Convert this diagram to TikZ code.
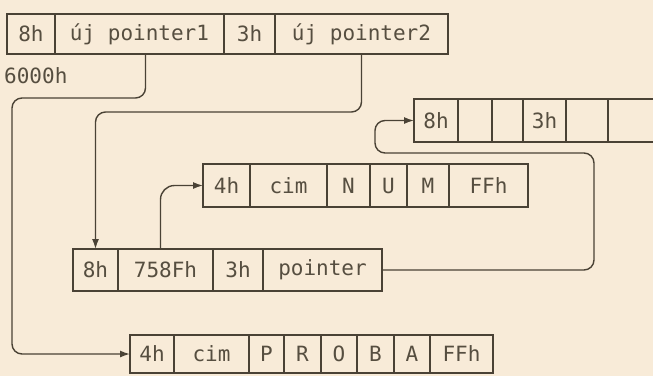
\documentclass[tikz,border=0pt]{standalone}
\usepackage{fontspec}
\setmonofont{DejaVu Sans Mono}
\usetikzlibrary{arrows.meta}
\definecolor{bg}{HTML}{F8EBD8}
\definecolor{ln}{HTML}{4A4235}
\definecolor{tx}{HTML}{564E40}
\tikzset{
  cell/.style={draw=ln, line width=1.4pt, anchor=north west, inner sep=0pt, outer sep=0pt,
    text=tx, font=\ttfamily\fontsize{21}{21}\selectfont},
  ptr/.style={draw=ln, line width=1.4pt, rounded corners=10pt, -{Latex[length=10pt,width=7pt]}},
  lbl/.style={text=tx, font=\ttfamily\fontsize{21}{21}\selectfont, inner sep=0pt}
}
\newcommand{\cellat}[5]{% name, x0, x1, y0, y1 ; text follows
  \node[cell, minimum width={(#3-#2)*1pt}, minimum height={(#5-#4)*1pt}] (#1) at (#2,#4)}
\begin{document}
\begin{tikzpicture}[x=1pt,y=-1pt]
\path[use as bounding box, fill=bg] (0,0) rectangle (653,376);
\clip (0,0) rectangle (653,376);
% top row
\cellat{a1}{7}{55}{14}{54}{8h};
\cellat{a2}{55}{224}{14}{54}{új pointer1};
\cellat{a3}{224}{275}{14}{54}{3h};
\cellat{a4}{275}{448}{14}{54}{új pointer2};
\node[lbl, anchor=west] (addr) at (4,76) {6000h};
% top right row
\cellat{e1}{414}{458}{99}{142}{8h};
\cellat{e2}{458}{492}{99}{142}{};
\cellat{e3}{492}{523}{99}{142}{};
\cellat{e4}{523}{566}{99}{142}{3h};
\cellat{e5}{566}{608}{99}{142}{};
\cellat{e6}{608}{700}{99}{142}{};
% NUM row
\cellat{d1}{203}{250}{164}{207}{4h};
\cellat{d2}{250}{327}{164}{207}{cim};
\cellat{d3}{327}{370}{164}{207}{N};
\cellat{d4}{370}{407}{164}{207}{U};
\cellat{d5}{407}{449}{164}{207}{M};
\cellat{d6}{449}{528}{164}{207}{FFh};
% middle row
\cellat{b1}{73}{118}{249}{291}{8h};
\cellat{b2}{118}{213}{249}{291}{758Fh};
\cellat{b3}{213}{263}{249}{291}{3h};
\cellat{b4}{263}{382}{249}{291}{pointer};
% PROBA row
\cellat{c1}{130}{174}{335}{373}{4h};
\cellat{c2}{174}{249}{335}{373}{cim};
\cellat{c3}{249}{284}{335}{373}{P};
\cellat{c4}{284}{321}{335}{373}{R};
\cellat{c5}{321}{357}{335}{373}{O};
\cellat{c6}{357}{394}{335}{373}{B};
\cellat{c7}{394}{430}{335}{373}{A};
\cellat{c8}{430}{493}{335}{373}{FFh};
% helper coordinates
\coordinate (k1) at (12,98);
\coordinate (k2) at (0,112);
\coordinate (r1) at (594,153);
\coordinate (r2) at (375,153);
% connectors
\draw[ptr] ([xshift=6pt]a2.south) |- (k1) |- (c1.west);
\draw[ptr] (a4.south) |- (b1.north |- k2) -- (b1.north);
\draw[ptr, rounded corners=14pt] ([xshift=-5pt]b2.north) |- (d1.west);
\draw[ptr] (b4.east) -| (r1) -- (r2) |- (e1.west);
\end{tikzpicture}
\end{document}
